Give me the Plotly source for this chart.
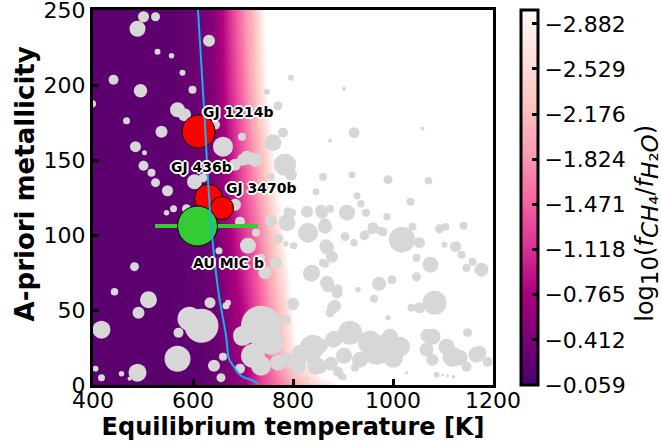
import plotly.graph_objects as go

# ---------------- data ----------------
# CH4/H2O ratio map: log10(f_CH4/f_H2O) (values below -2.99 are shown white)
grid_temp = [400, 560, 600, 620, 640, 660, 680, 700, 720, 740, 760, 780, 800, 820, 840, 860, 880, 900, 950, 1200]
grid_metal = [0, 10, 25, 50, 100, 150, 200, 250]
log_ratio = [
    [-0.20, -0.20, -0.20, -0.25, -0.30, -0.40, -0.55, -0.70, -1.00, -1.30, -1.50, -1.70, -1.95, -2.20, -2.40, -2.60, -2.80, -3.50, -3.5, -3.5],
    [-0.20, -0.20, -0.21, -0.24, -0.28, -0.36, -0.50, -0.65, -0.95, -1.30, -1.60, -1.95, -2.30, -2.60, -2.85, -3.50, -3.50, -3.50, -3.5, -3.5],
    [-0.20, -0.20, -0.22, -0.25, -0.28, -0.38, -0.55, -0.80, -1.10, -1.45, -1.85, -2.30, -2.80, -3.50, -3.50, -3.50, -3.50, -3.50, -3.5, -3.5],
    [-0.20, -0.21, -0.25, -0.27, -0.32, -0.45, -0.65, -0.85, -1.20, -1.55, -1.95, -2.40, -3.00, -3.50, -3.50, -3.50, -3.50, -3.50, -3.5, -3.5],
    [-0.20, -0.22, -0.27, -0.30, -0.38, -0.55, -0.85, -1.15, -1.45, -1.85, -2.35, -2.90, -3.50, -3.50, -3.50, -3.50, -3.50, -3.50, -3.5, -3.5],
    [-0.20, -0.22, -0.28, -0.33, -0.45, -0.65, -1.00, -1.40, -1.80, -2.25, -2.90, -3.50, -3.50, -3.50, -3.50, -3.50, -3.50, -3.50, -3.5, -3.5],
    [-0.20, -0.22, -0.30, -0.38, -0.50, -0.80, -1.20, -1.60, -2.10, -2.75, -3.50, -3.50, -3.50, -3.50, -3.50, -3.50, -3.50, -3.50, -3.5, -3.5],
    [-0.20, -0.22, -0.30, -0.40, -0.52, -0.85, -1.30, -1.72, -2.15, -2.90, -3.50, -3.50, -3.50, -3.50, -3.50, -3.50, -3.50, -3.50, -3.5, -3.5],
]
cbar_ticks = [-2.882, -2.529, -2.176, -1.824, -1.471, -1.118, -0.765, -0.412, -0.059]
cbar_min, cbar_max = -2.99, -0.059

# CH4 = H2O boundary curve
curve_temp = [610, 622, 632, 640, 652, 666, 672, 680, 696, 720, 730]
curve_metal = [250, 185, 126, 93, 59.5, 33, 17.5, 13, 6.2, 2.9, 0.9]

# known planet population (grey)
pop_temp = [501, 525, 489, 632, 529, 557, 579, 441, 495, 599, 399, 569, 583, 467, 537, 485, 503, 501, 517, 525,
            549, 603, 620, 644, 660, 698, 708, 724, 760, 780, 770, 748, 796, 902, 922, 874, 1059, 784, 700, 684,
            796, 860, 918, 846, 756, 990, 1071, 928, 936, 1035, 946, 988, 960, 944, 980, 1039, 1093, 1105, 1141, 1018,
            1053, 1103, 1125, 908, 858, 828, 798, 864, 830, 788, 1075, 1047, 1047, 904, 922, 942, 958, 974, 868, 878,
            864, 838, 786, 800, 1137, 1159, 1177, 1147, 930, 972, 998, 868, 888, 962, 880, 874, 800, 1083, 1053, 1037,
            990, 1149, 914, 954, 968, 994, 1014, 840, 814, 880, 934, 854, 890, 1079, 1107, 1119, 1173, 1067, 1079, 1147,
            1189, 1087, 1027, 788, 900, 1000, 1069, 1133, 1167, 1077, 1099, 1109, 1121, 790, 856, 874, 756, 864, 866, 770,
            802, 710, 726, 766, 736, 744, 836, 860, 870, 890, 884, 800, 786, 670, 736, 700, 756, 720, 696, 736,
            770, 694, 830, 824, 856, 884, 810, 846, 876, 902, 896, 924, 828, 547, 561, 587, 483, 443, 511, 491,
            417, 593, 617, 571, 634, 666, 569, 489, 417, 457, 473, 642, 656, 405, 660, 652, 684, 694]
pop_metal = [245.5, 245.5, 237.5, 229.5, 222.2, 219.5, 208.2, 203.5, 196.2, 196.9, 187.5, 183.5, 180.2, 176.2, 168.9, 158.9, 154.9, 146.2, 141.5, 134.9,
             129.5, 135.5, 138.2, 173.5, 158.9, 165.5, 151.5, 150.2, 161.5, 168.2, 186.2, 195.5, 204.9, 197.5, 168.2, 162.9, 170.9, 146.9, 150.2, 146.9,
             140.2, 138.9, 140.2, 128.9, 138.9, 136.9, 136.2, 126.2, 120.9, 122.2, 114.9, 112.2, 104.9, 100.2, 102.2, 105.5, 104.2, 105.5, 106.2, 96.9,
             94.9, 93.5, 92.2, 114.9, 114.9, 115.5, 114.9, 105.5, 101.5, 108.2, 80.2, 84.9, 72.2, 98.9, 94.9, 99.5, 103.5, 102.9, 91.5, 85.5,
             80.9, 74.9, 94.2, 92.9, 86.9, 82.2, 76.9, 78.2, 63.5, 67.5, 70.2, 68.2, 61.5, 57.5, 51.5, 48.2, 53.5, 54.9, 51.5, 51.5,
             44.9, 34.9, 34.9, 28.2, 23.5, 32.2, 25.5, 25.5, 21.5, 30.2, 16.9, 12.2, 8.9, 32.2, 25.5, 18.9, 21.5, 23.5, 16.9, 12.2,
             15.5, 6.9, 8.2, 16.9, 5.5, 18.2, 32.9, 18.2, 20.2, 16.2, 6.9, 6.2, 5.5, 115.5, 116.2, 117.5, 109.5, 107.5, 92.9, 97.5,
             92.9, 92.9, 101.5, 81.5, 84.9, 74.9, 74.2, 81.5, 66.2, 64.2, 52.9, 54.2, 43.5, 54.9, 39.5, 32.9, 28.2, 19.5, 30.9, 12.9,
             14.9, 10.9, 26.2, 21.5, 26.2, 30.9, 12.9, 12.9, 14.2, 19.5, 6.2, 11.5, 4.2, 114.9, 117.5, 117.5, 78.9, 62.2, 56.9, 48.2,
             36.9, 44.2, 39.5, 34.9, 54.9, 52.9, 17.5, 8.2, 4.9, 7.5, 4.2, 12.9, 4.9, 10.9, 18.9, 89.5, 120.2, 108.9]
pop_size = [11, 9, 16, 12, 6, 5.5, 6, 10, 13.5, 8, 7, 15, 13, 7, 12, 11, 5, 10, 8, 9,
            11, 15, 9, 10, 20, 8, 14, 14, 17, 10, 9, 6, 6, 4, 11, 4, 4, 22, 12, 12,
            12, 8, 7, 7, 7, 9, 7.5, 7, 7.5, 8, 8, 7.5, 11, 9, 9, 8, 9, 7.5, 8, 26,
            11, 6, 11, 16, 12, 12, 8, 14, 20, 17, 16, 8, 9, 9, 7.5, 9, 9, 8, 14, 12,
            8, 16, 5.5, 6, 8, 8, 14, 8, 5.5, 14, 9, 14, 11, 8, 12, 9, 11, 24, 11, 8,
            5.5, 9, 24, 24, 30, 16, 20, 24, 16, 16, 16, 14, 10, 16, 16, 20, 14, 14, 12, 10,
            10, 6, 3.5, 14, 7, 20, 14, 16, 16, 10, 3, 3, 3.5, 9, 12, 8, 12, 11, 13, 10,
            7, 16, 8, 12, 8, 13, 16, 8, 13, 9, 12, 12, 10, 6, 40, 20, 24, 24, 14, 20,
            16, 10, 16, 20, 14, 16, 16, 18, 14, 16, 7, 8, 3.5, 5.5, 7, 9, 9, 7.5, 17, 12,
            18, 24, 34, 10, 11, 7, 26, 18, 7, 5.5, 4, 12, 9, 6, 8, 7, 12, 10]

# highlighted planets
red_names = ["GJ 436b", "GJ 3470b", "GJ 1214b"]
red_temp = [631, 658, 611]
red_metal = [124.5, 118, 169]
red_size = [28, 23, 33]
aumic_temp, aumic_metal, aumic_size = 609, 106, 40
aumic_err_minus, aumic_err_plus = 81, 116

FONT = "DejaVu Sans"

fig = go.Figure()

# --- heat map (plotted as -log ratio so that the colour bar reads from -0.059 at bottom to -2.882 at top)
neg = [[-v for v in row] for row in log_ratio]
rdpu_r = [[0.0, "#49006a"], [0.125, "#7a0177"], [0.25, "#ae017e"], [0.375, "#dd3497"],
          [0.5, "#f768a1"], [0.625, "#fa9fb5"], [0.75, "#fcc5c0"], [0.875, "#fde0dd"],
          [0.985, "#fff7f3"], [1.0, "#ffffff"]]
fig.add_trace(go.Heatmap(
    x=grid_temp, y=grid_metal, z=neg, zsmooth="best",
    zmin=-cbar_max, zmax=-cbar_min, colorscale=rdpu_r,
    colorbar=dict(
        x=1.07, xanchor="left", xref="paper", xpad=0, ypad=0,
        y=0.5, yanchor="middle", len=1.0, lenmode="fraction",
        thickness=17, outlinewidth=3, outlinecolor="black",
        tickvals=[-t for t in cbar_ticks],
        ticktext=["\u2212%.3f" % abs(t) for t in cbar_ticks],
        ticks="inside", ticklen=7, tickwidth=2.5, tickcolor="black",
        tickfont=dict(family=FONT, size=22, color="black"),
    ),
    hoverinfo="skip",
))

# --- grey population
fig.add_trace(go.Scatter(
    x=pop_temp, y=pop_metal, mode="markers",
    marker=dict(size=pop_size, color="#d7d7d7", line=dict(width=0), opacity=1),
    showlegend=False, hoverinfo="skip",
))

# --- highlighted planets
fig.add_trace(go.Scatter(
    x=red_temp, y=red_metal, mode="markers",
    marker=dict(size=red_size, color="#ff0000", opacity=1, line=dict(width=1, color="black")),
    showlegend=False,
))
fig.add_trace(go.Scatter(
    x=[aumic_temp], y=[aumic_metal], mode="markers",
    marker=dict(size=aumic_size, color="#33cc33", opacity=1, line=dict(width=1, color="black")),
    error_x=dict(type="data", symmetric=False, array=[aumic_err_plus], arrayminus=[aumic_err_minus],
                 color="#33cc33", thickness=4, width=2),
    showlegend=False,
))

# --- boundary curve
fig.add_trace(go.Scatter(
    x=curve_temp, y=curve_metal, mode="lines", line=dict(color="#10b4ee", width=2, shape="spline"),
    showlegend=False, hoverinfo="skip",
))

# --- labels
halo = "1px 1px 0 white, -1px -1px 0 white, 1px -1px 0 white, -1px 1px 0 white, 2px 0 0 white, -2px 0 0 white, 0 2px 0 white, 0 -2px 0 white"
label_specs = [
    ("GJ 1214b", red_temp[2], red_metal[2], 40, 20),
    ("GJ 436b", red_temp[0], red_metal[0], -7, 31),
    ("GJ 3470b", red_temp[1], red_metal[1], 39, 20),
    ("AU MIC b", aumic_temp, aumic_metal, 31, -37),
]
for name, tx, my, dx, dy in label_specs:
    fig.add_annotation(x=tx, y=my, text="<b>%s</b>" % name, showarrow=False, xshift=dx, yshift=dy,
                       font=dict(family=FONT, size=14, color="black", shadow=halo))

# colour-bar label and y-axis label as free text (positioned like the reference)
sub = lambda s: '<sub><span style="font-size:23px">%s</span></sub>' % s
cb_title = "log" + sub("10") + "(<i>f</i>" + sub("<i>CH</i>\u2084") + "/<i>f</i>" + sub("<i>H</i>\u2082<i>O</i>") + ")"
fig.add_annotation(xref="paper", yref="paper", x=1.385, y=0.43, text=cb_title, textangle=-90,
                   showarrow=False, xanchor="center", yanchor="middle",
                   font=dict(family=FONT, size=24, color="black"))
fig.add_annotation(xref="paper", yref="paper", x=-0.17, y=0.535, text="<b>A-priori metallicity</b>",
                   textangle=-90, showarrow=False, xanchor="center", yanchor="middle",
                   font=dict(family=FONT, size=26, color="black"))

axis_common = dict(showline=True, linewidth=3, linecolor="black", mirror=True,
                   ticks="inside", ticklen=6, tickwidth=2.5, tickcolor="black",
                   showgrid=False, zeroline=False, ticklabeloverflow="allow",
                   tickfont=dict(family=FONT, size=22, color="black"))
fig.update_xaxes(range=[400, 1200], tickvals=[400, 600, 800, 1000, 1200], **axis_common,
                 ticklabelstandoff=-6,
                 title=dict(text="<b>Equilibrium temperature [K]</b>", standoff=6,
                            font=dict(family=FONT, size=24, color="black")))
fig.update_yaxes(range=[0, 250], tickvals=[0, 50, 100, 150, 200, 250], **axis_common)

fig.update_layout(
    width=662, height=447,
    margin=dict(l=93, r=169, t=10, b=62, autoexpand=False),
    plot_bgcolor="white", paper_bgcolor="white",
    font=dict(family=FONT, color="black"),
    showlegend=False,
)

fig.write_html("out.html")
